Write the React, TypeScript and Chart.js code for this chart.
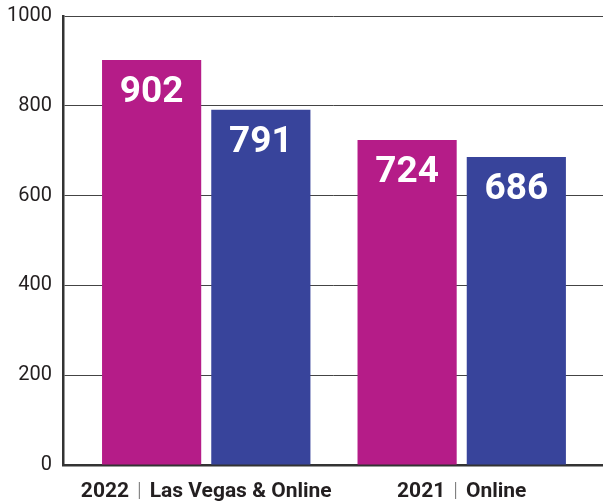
import React, { useEffect, useRef } from "react";
import { Chart, registerables } from "chart.js";

Chart.register(...registerables);

const years = ["2022", "2021"];
const events = ["Las Vegas & Online", "Online"];
const groupPositions = [0, 1];
const magentaValues = [902, 724];
const blueValues = [791, 686];
const yTicks = [0, 200, 400, 600, 800, 1000];

const MAGENTA = "#B51C88";
const BLUE = "#38449B";
const TEXT = "#231F20";

const valueLabelsPlugin = {
  id: "valueLabels",
  afterDatasetsDraw(chart: any) {
    const ctx = chart.ctx;
    ctx.save();
    ctx.fillStyle = "#FFFFFF";
    ctx.font = "bold 37px Roboto, 'DejaVu Sans', sans-serif";
    ctx.textAlign = "center";
    ctx.textBaseline = "alphabetic";
    chart.data.datasets.forEach((ds: any, di: number) => {
      const meta = chart.getDatasetMeta(di);
      meta.data.forEach((el: any, i: number) => {
        const v = ds.data[i].y;
        ctx.fillText(String(v), el.x, el.y + 42);
      });
    });
    ctx.restore();
  },
};

const groupLabelsPlugin = {
  id: "groupLabels",
  afterDraw(chart: any) {
    const ctx = chart.ctx;
    const xScale = chart.scales.x;
    const y = 497;
    ctx.save();
    ctx.textBaseline = "alphabetic";
    ctx.textAlign = "left";
    const boldFont = "bold 21px Roboto, 'DejaVu Sans', sans-serif";
    const lightFont = "300 21px Roboto, 'DejaVu Sans', sans-serif";
    const gap = 8;
    groupPositions.forEach((pos, i) => {
      const cx = xScale.getPixelForValue(pos);
      ctx.font = boldFont;
      const wYear = ctx.measureText(years[i]).width;
      const wEvent = ctx.measureText(events[i]).width;
      ctx.font = lightFont;
      const wSep = ctx.measureText("|").width;
      const total = wYear + gap + wSep + gap + wEvent;
      let x = cx - total / 2;
      ctx.font = boldFont;
      ctx.fillStyle = TEXT;
      ctx.fillText(years[i], x, y);
      x += wYear + gap;
      ctx.font = lightFont;
      ctx.fillStyle = "#777777";
      ctx.fillText("|", x, y);
      x += wSep + gap;
      ctx.font = boldFont;
      ctx.fillStyle = TEXT;
      ctx.fillText(events[i], x, y);
    });
    ctx.restore();
  },
};

export default function App() {
  const canvasRef = useRef<HTMLCanvasElement | null>(null);

  useEffect(() => {
    if (!canvasRef.current) return;
    const chart = new Chart(canvasRef.current, {
      type: "bar",
      data: {
        datasets: [
          {
            label: "A",
            data: groupPositions.map((x, i) => ({ x, y: magentaValues[i] })),
            backgroundColor: MAGENTA,
            borderWidth: 0,
          },
          {
            label: "B",
            data: groupPositions.map((x, i) => ({ x, y: blueValues[i] })),
            backgroundColor: BLUE,
            borderWidth: 0,
          },
        ],
      },
      options: {
        animation: false,
        responsive: true,
        maintainAspectRatio: false,
        categoryPercentage: 0.855,
        barPercentage: 0.908,
        layout: { padding: { left: -4, right: 0, top: 0, bottom: 37 } },
        plugins: {
          legend: { display: false },
          tooltip: { enabled: false },
        },
        scales: {
          x: {
            type: "linear",
            offset: false,
            min: -0.5608,
            max: 1.553,
            grid: { display: false, offset: false, drawTicks: false },
            border: { display: true, color: "#333333", width: 2.5 },
            ticks: { display: false },
            afterBuildTicks: (scale: any) => {
              scale.ticks = groupPositions.map((v) => ({ value: v }));
            },
          },
          y: {
            min: 0,
            max: 1000,
            grid: { color: "#444444", lineWidth: 1, drawTicks: false },
            border: { display: true, color: "#333333", width: 2.5 },
            afterBuildTicks: (scale: any) => {
              scale.ticks = yTicks.map((v) => ({ value: v }));
            },
            ticks: {
              color: TEXT,
              padding: 11,
              font: { family: "Roboto, sans-serif", size: 20, lineHeight: 0.5 },
              callback: (v: any) => String(v),
            },
          },
        },
      } as any,
      plugins: [valueLabelsPlugin, groupLabelsPlugin],
    });
    return () => chart.destroy();
  }, []);

  return (
    <div style={{ position: "fixed", left: 0, top: 0, width: 603, height: 502, background: "#fff" }}>
      <canvas ref={canvasRef} />
    </div>
  );
}
